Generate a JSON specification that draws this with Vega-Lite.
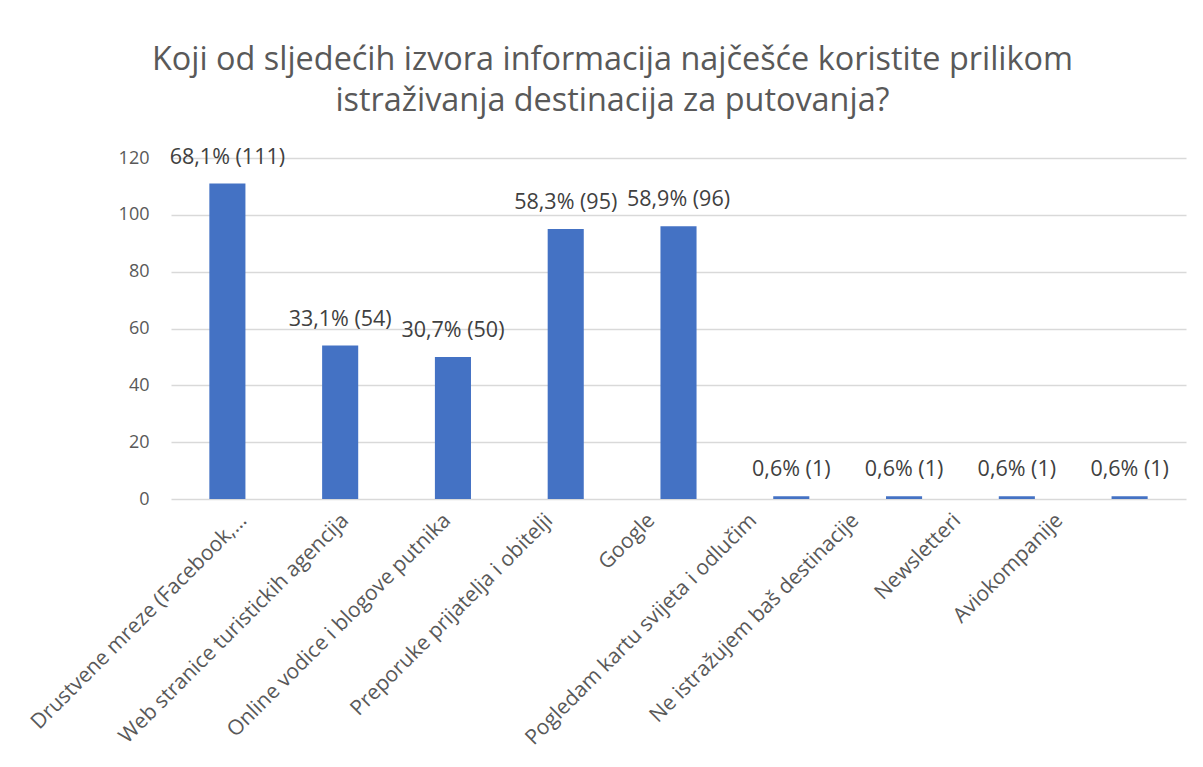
{
  "$schema": "https://vega.github.io/schema/vega-lite/v6.json",
  "width": 1015,
  "height": 341,
  "autosize": {"type": "none"},
  "padding": {"left": 171, "top": 158, "right": 17, "bottom": 268},
  "background": "#ffffff",
  "config": {
    "view": {"stroke": null},
    "font": "Open Sans"
  },
  "title": {
    "text": ["Koji od sljedećih izvora informacija najčešće koristite prilikom", "istraživanja destinacija za putovanja?"],
    "font": "Open Sans",
    "fontSize": 32.4,
    "fontWeight": "normal",
    "color": "#595959",
    "anchor": "middle",
    "frame": "group",
    "dx": -66,
    "offset": 29,
    "lineHeight": 41
  },
  "data": {
    "values": [
      {"izvor": "Drustvene mreze (Facebook,…", "broj": 111, "oznaka": "68,1% (111)"},
      {"izvor": "Web stranice turistickih agencija", "broj": 54, "oznaka": "33,1% (54)"},
      {"izvor": "Online vodice i blogove putnika", "broj": 50, "oznaka": "30,7% (50)"},
      {"izvor": "Preporuke prijatelja i obitelji", "broj": 95, "oznaka": "58,3% (95)"},
      {"izvor": "Google", "broj": 96, "oznaka": "58,9% (96)"},
      {"izvor": "Pogledam kartu svijeta i odlučim", "broj": 1, "oznaka": "0,6% (1)"},
      {"izvor": "Ne istražujem baš destinacije", "broj": 1, "oznaka": "0,6% (1)"},
      {"izvor": "Newsletteri", "broj": 1, "oznaka": "0,6% (1)"},
      {"izvor": "Aviokompanije", "broj": 1, "oznaka": "0,6% (1)"}
    ]
  },
  "layer": [
    {
      "encoding": {
        "x": {
          "field": "izvor",
          "type": "nominal",
          "sort": null,
          "scale": {"paddingInner": 0.68, "paddingOuter": 0.34},
          "axis": null
        },
        "y": {
          "field": "broj",
          "type": "quantitative",
          "scale": {"domain": [0, 120], "nice": false},
          "axis": {
            "values": [0, 20, 40, 60, 80, 100, 120],
            "title": null,
            "domain": false,
            "ticks": false,
            "grid": true,
            "gridColor": "#D9D9D9",
            "gridWidth": 1.3,
            "labelFont": "Open Sans",
            "labelFontSize": 18,
            "labelColor": "#595959",
            "labelPadding": 22
          }
        }
      },
      "layer": [
        {"mark": {"type": "bar", "color": "#4472C4"}},
        {
          "mark": {"type": "text", "dy": -26, "baseline": "middle", "align": "center", "fontSize": 21.5, "color": "#404040", "font": "Open Sans"},
          "encoding": {"text": {"field": "oznaka"}}
        }
      ]
    },
    {
      "mark": {"type": "point", "opacity": 0},
      "encoding": {
        "x": {
          "field": "izvor",
          "type": "nominal",
          "sort": null,
          "scale": {"type": "point", "padding": 0.975, "align": 0.362},
          "axis": {
            "orient": "bottom",
            "title": null,
            "domain": false,
            "ticks": false,
            "grid": false,
            "labelAngle": -45,
            "labelAlign": "right",
            "labelBaseline": "middle",
            "labelPadding": 18,
            "labelFont": "Open Sans",
            "labelFontSize": 21,
            "labelColor": "#595959",
            "labelLimit": 0,
            "labelOverlap": false
          }
        },
        "y": {"datum": 0, "type": "quantitative"}
      }
    }
  ],
  "resolve": {"scale": {"x": "independent"}, "axis": {"x": "independent"}}
}
